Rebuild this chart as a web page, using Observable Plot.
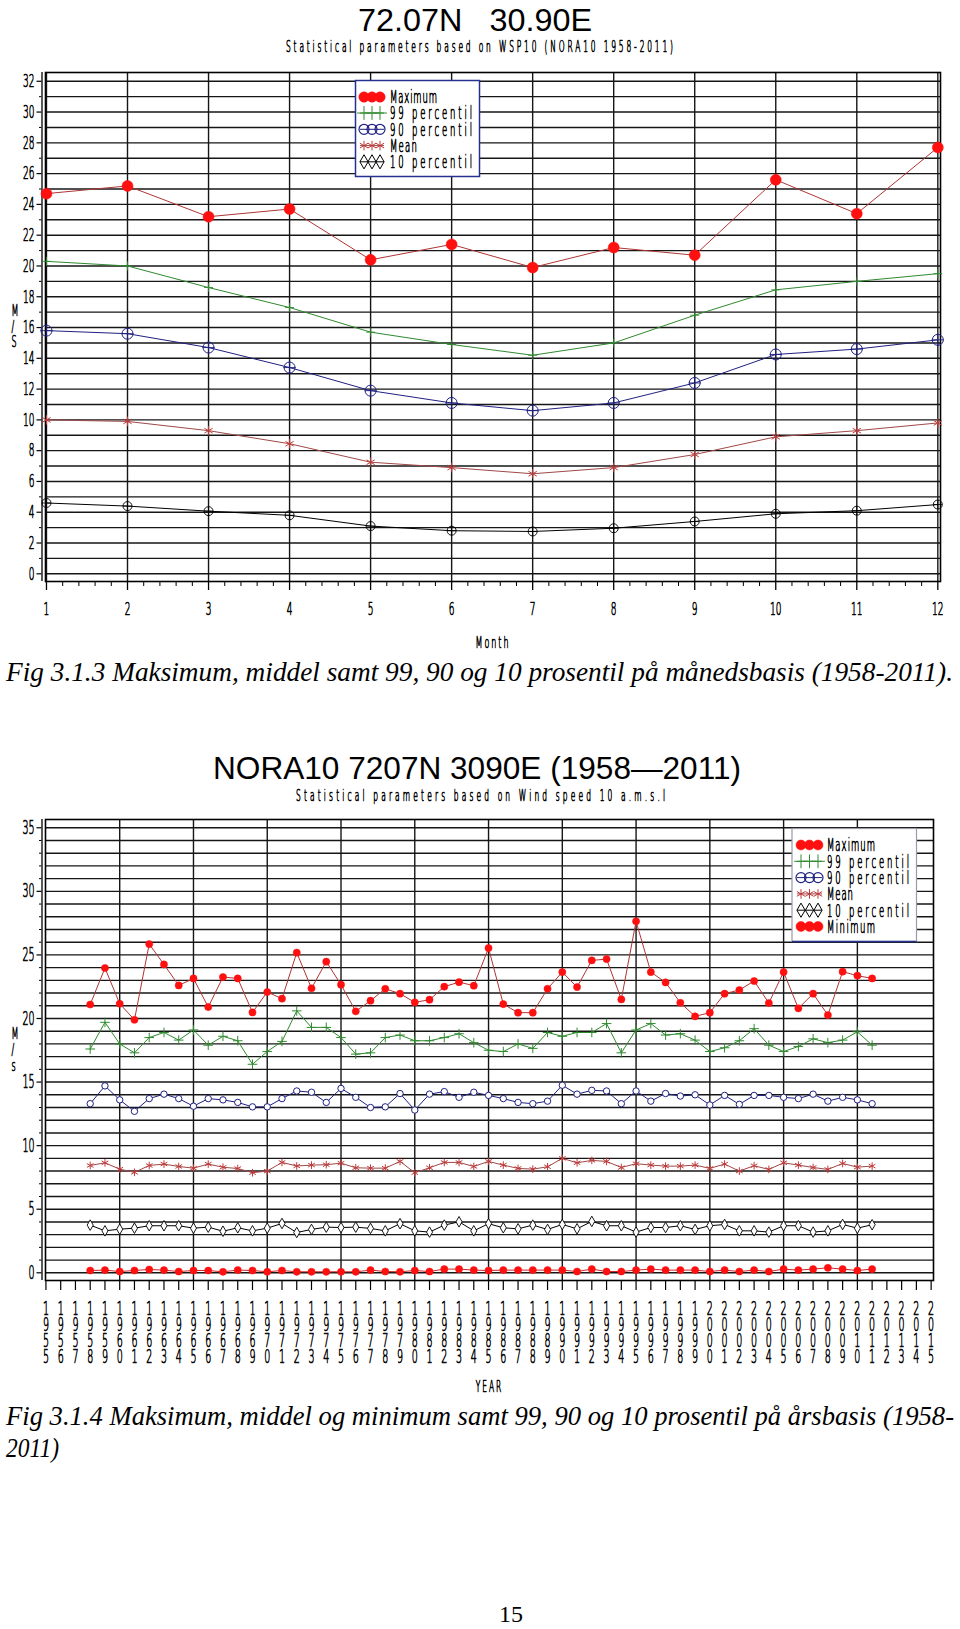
<!DOCTYPE html>
<html><head><meta charset="utf-8">
<script src="https://cdn.jsdelivr.net/npm/d3@7"></script>
<script src="https://cdn.jsdelivr.net/npm/@observablehq/plot@0.6"></script>
<style>
html,body{margin:0;padding:0;background:#fff;}
#page{position:relative;width:960px;height:1629px;overflow:hidden;background:#fff;}
</style></head>
<body><div id="page"></div>
<script>
// ---------- DATA: monthly chart ----------
const months = [1,2,3,4,5,6,7,8,9,10,11,12];
const monthMax  = [24.7, 25.2, 23.2, 23.7, 20.4, 21.4, 19.9, 21.2, 20.7, 25.6, 23.4, 27.7];
const monthP99  = [20.3, 20.0, 18.6, 17.3, 15.7, 14.9, 14.2, 15.0, 16.8, 18.45, 19.0, 19.5];
const monthP90  = [15.8, 15.6, 14.7, 13.4, 11.9, 11.1, 10.6, 11.1, 12.4, 14.25, 14.6, 15.2];
const monthMean = [10.0, 9.9, 9.3, 8.45, 7.25, 6.9, 6.5, 6.9, 7.75, 8.9, 9.3, 9.8];
const monthP10  = [4.6, 4.4, 4.07, 3.8, 3.1, 2.8, 2.75, 2.96, 3.4, 3.9, 4.1, 4.5];
const monthYLabels = [0,2,4,6,8,10,12,14,16,18,20,22,24,26,28,30,32];

// ---------- DATA: yearly chart ----------
const years = [1958,1959,1960,1961,1962,1963,1964,1965,1966,1967,1968,1969,1970,1971,1972,1973,1974,1975,1976,1977,
  1978,1979,1980,1981,1982,1983,1984,1985,1986,1987,1988,1989,1990,1991,1992,1993,1994,1995,1996,1997,
  1998,1999,2000,2001,2002,2003,2004,2005,2006,2007,2008,2009,2010,2011];
const yearMax = [21.1, 23.97, 21.16, 19.9, 25.85, 24.25, 22.6, 23.15, 20.9, 23.26,
  23.15, 20.48, 22.08, 21.56, 25.18, 22.37, 24.47, 22.66, 20.56, 21.4,
  22.34, 21.95, 21.27, 21.48, 22.5, 22.86, 22.58, 25.54, 21.13, 20.46,
  20.46, 22.34, 23.65, 22.47, 24.57, 24.67, 21.5, 27.64, 23.65, 22.84,
  21.24, 20.17, 20.46, 21.95, 22.24, 22.95, 21.21, 23.65, 20.8, 21.95,
  20.27, 23.68, 23.37, 23.15];
const yearP99 = [17.6, 19.7, 18.0, 17.3, 18.5, 18.9, 18.3, 19.1, 17.9, 18.6,
  18.25, 16.4, 17.4, 18.2, 20.6, 19.3, 19.3, 18.5, 17.2, 17.3,
  18.5, 18.7, 18.25, 18.25, 18.5, 18.8, 18.1, 17.5, 17.4, 18.0,
  17.65, 18.9, 18.6, 18.9, 18.9, 19.6, 17.3, 19.1, 19.6, 18.7,
  18.8, 18.3, 17.4, 17.7, 18.25, 19.2, 17.9, 17.4, 17.8, 18.4,
  18.1, 18.3, 18.95, 17.9];
const yearP90 = [13.3, 14.7, 13.6, 12.7, 13.7, 14.05, 13.7, 13.1, 13.7, 13.6,
  13.4, 13.05, 13.05, 13.7, 14.3, 14.2, 13.4, 14.5, 13.8, 13.0,
  13.05, 14.1, 12.8, 14.05, 14.25, 13.8, 14.2, 13.95, 13.7, 13.4,
  13.3, 13.5, 14.75, 14.05, 14.35, 14.3, 13.3, 14.3, 13.5, 14.1,
  13.9, 14.0, 13.2, 13.95, 13.25, 13.95, 13.95, 13.8, 13.7, 14.05,
  13.5, 13.8, 13.6, 13.3];
const yearMean = [8.44, 8.65, 8.15, 7.9, 8.44, 8.55, 8.36, 8.23, 8.55, 8.3,
  8.2, 7.87, 8.0, 8.68, 8.4, 8.47, 8.5, 8.62, 8.26, 8.23,
  8.23, 8.76, 7.87, 8.26, 8.68, 8.68, 8.36, 8.76, 8.47, 8.21,
  8.15, 8.34, 9.0, 8.65, 8.84, 8.76, 8.28, 8.58, 8.47, 8.39,
  8.39, 8.47, 8.21, 8.55, 8.0, 8.42, 8.13, 8.65, 8.47, 8.28,
  8.13, 8.6, 8.31, 8.39];
const yearP10 = [3.75, 3.3, 3.43, 3.51, 3.7, 3.7, 3.7, 3.51, 3.59, 3.27,
  3.54, 3.3, 3.51, 3.88, 3.17, 3.41, 3.59, 3.56, 3.59, 3.49,
  3.3, 3.86, 3.3, 3.2, 3.75, 4.01, 3.3, 3.86, 3.54, 3.46,
  3.75, 3.41, 3.8, 3.46, 4.04, 3.7, 3.7, 3.2, 3.56, 3.56,
  3.7, 3.41, 3.7, 3.8, 3.3, 3.3, 3.2, 3.7, 3.7, 3.2,
  3.3, 3.8, 3.51, 3.78];
const yearMin = [0.18, 0.21, 0.1, 0.18, 0.26, 0.21, 0.1, 0.18, 0.18, 0.08,
  0.21, 0.18, 0.08, 0.18, 0.08, 0.08, 0.08, 0.08, 0.08, 0.21,
  0.1, 0.08, 0.18, 0.1, 0.29, 0.29, 0.21, 0.18, 0.21, 0.21,
  0.21, 0.21, 0.21, 0.1, 0.29, 0.1, 0.1, 0.21, 0.29, 0.21,
  0.21, 0.21, 0.1, 0.21, 0.1, 0.21, 0.1, 0.29, 0.21, 0.29,
  0.39, 0.29, 0.18, 0.29];
const yearTickLabels = [1955,1956,1957,1958,1959,1960,1961,1962,1963,1964,1965,1966,1967,1968,1969,1970,
  1971,1972,1973,1974,1975,1976,1977,1978,1979,1980,1981,1982,1983,1984,1985,1986,1987,1988,1989,1990,
  1991,1992,1993,1994,1995,1996,1997,1998,1999,2000,2001,2002,2003,2004,2005,2006,2007,2008,2009,2010,
  2011,2012,2013,2014,2015];
const yearYLabels = [0,5,10,15,20,25,30,35];
const yearGridX = [1960,1965,1970,1975,1980,1985,1990,1995,2000,2005,2010];

const legendMonth = ["Maximum","99 percentil","90 percentil","Mean","10 percentil"];
const legendYear  = ["Maximum","99 percentil","90 percentil","Mean","10 percentil","Minimum"];

// ---------- STYLE ----------
const gridColor = "#161616";
const C = {
  maxDot: "#ff1010", maxLine: "#b03434",
  p99: "#2f8a2f", p90: "#1f2080",
  meanLine: "#a04848", meanMark: "#c03a3a",
  p10: "#000000", minDot: "#ff1010", minLine: "#c82828"
};
const FONT = "'DejaVu Sans ExtraLight', 'DejaVu Sans', sans-serif";
const page = document.getElementById("page");

const isNum = v => v != null && /^-?[\d.]+$/.test(v.trim());
function condense(svg, sx) {
  svg.querySelectorAll("text").forEach(t => {
    let tr = t.getAttribute("transform") || "";
    const x = t.getAttribute("x"), y = t.getAttribute("y");
    const nx = isNum(x) ? +x : 0, ny = isNum(y) ? +y : 0;
    if (isNum(x)) t.removeAttribute("x");
    if (isNum(y)) t.removeAttribute("y");
    if (nx || ny) {
      tr += ` translate(${nx},${ny})`;
      t.querySelectorAll("tspan").forEach(s => { if (s.getAttribute("x") === x) s.setAttribute("x", 0); });
    }
    t.setAttribute("transform", tr + ` scale(${sx},1)`);
    t.setAttribute("font-weight", 300);
    t.setAttribute("stroke", "#000");
    t.setAttribute("stroke-width", 0.75);
    if (/[A-Za-z]{2,}/.test(t.textContent)) t.setAttribute("letter-spacing", 4);
  });
}
const at = arr => (d, i) => arr[i];

// ---------- CHART 1 (monthly) ----------
{
  const xd = [0.988, 12.033], yd = [-0.5, 32.57];
  const gridH = d3.range(0, 33);
  const minorY = gridH.filter(v => v % 2 === 1);
  const minorX = d3.range(1, 12.001, 0.2).filter(v => Math.abs(v - Math.round(v)) > 0.01);
  const txt = {fontFamily: FONT, fill: "#000"};
  const svg = Plot.plot({
    width: 960, height: 600,
    marginTop: 12, marginBottom: 79, marginLeft: 45, marginRight: 20,
    x: {domain: xd, axis: null},
    y: {domain: yd, axis: null},
    style: {background: "transparent", overflow: "visible"},
    marks: [
      Plot.ruleY(gridH, {y: d => d, stroke: gridColor, strokeWidth: 1.4}),
      Plot.ruleX(months, {x: d => d, stroke: gridColor, strokeWidth: 1.4}),
      Plot.frame({stroke: "#000", strokeWidth: 1.6}),
      Plot.ruleX([xd[0]], {x: d => d, dx: -3.5, stroke: "#000", strokeWidth: 1.3}),
      Plot.ruleY(monthYLabels, {y: d => d, x1: xd[0], x2: xd[0], dx: -3.5, insetRight: 5, stroke: "#000", strokeWidth: 1.2}),
      Plot.ruleY(minorY, {y: d => d, x1: xd[0], x2: xd[0], dx: -3.5, insetRight: 2.5, stroke: "#000", strokeWidth: 1}),
      Plot.ruleX(months, {x: d => d, y1: yd[0], y2: yd[0], insetBottom: -9, stroke: "#000", strokeWidth: 1.3}),
      Plot.ruleX(minorX, {x: d => d, y1: yd[0], y2: yd[0], insetBottom: -5, stroke: "#000", strokeWidth: 1}),
      // series
      Plot.line(monthP10, {x: at(months), y: d => d, stroke: C.p10, strokeWidth: 1}),
      Plot.dot(monthP10, {x: at(months), y: d => d, r: 4.5, stroke: C.p10, fill: "none", strokeWidth: 0.9}),
      Plot.dot(monthP10, {x: at(months), y: d => d, r: 3, symbol: "plus", stroke: C.p10, strokeWidth: 0.8}),
      Plot.line(monthMean, {x: at(months), y: d => d, stroke: C.meanLine, strokeWidth: 1}),
      Plot.dot(monthMean, {x: at(months), y: d => d, r: 4.5, symbol: "asterisk", stroke: C.meanMark, strokeWidth: 1}),
      Plot.line(monthP90, {x: at(months), y: d => d, stroke: C.p90, strokeWidth: 1}),
      Plot.dot(monthP90, {x: at(months), y: d => d, r: 5.5, stroke: C.p90, fill: "none", strokeWidth: 1}),
      Plot.dot(monthP90, {x: at(months), y: d => d, r: 4, symbol: "plus", stroke: C.p90, strokeWidth: 0.9}),
      Plot.line(monthP99, {x: at(months), y: d => d, stroke: C.p99, strokeWidth: 1}),
      Plot.dot(monthP99, {x: at(months), y: d => d, r: 3, symbol: "plus", stroke: C.p99, strokeWidth: 0.9}),
      Plot.line(monthMax, {x: at(months), y: d => d, stroke: C.maxLine, strokeWidth: 1}),
      Plot.dot(monthMax, {x: at(months), y: d => d, r: 5.5, fill: C.maxDot, stroke: C.maxDot, strokeWidth: 0.5}),
      // axis texts
      Plot.text(monthYLabels, {y: d => d, text: d => String(d), frameAnchor: "left", dx: -11, textAnchor: "end", lineAnchor: "middle", fontSize: 18, ...txt}),
      Plot.text(months, {x: d => d, text: d => String(d), frameAnchor: "bottom", dy: 28, lineAnchor: "middle", fontSize: 18, ...txt}),
      Plot.text(["Month"], {text: d => d, frameAnchor: "bottom", dy: 61, lineAnchor: "middle", fontSize: 16, ...txt}),
      Plot.text(["M\n/\nS"], {text: d => d, frameAnchor: "left", dx: -34, lineAnchor: "middle", lineHeight: 0.97, fontSize: 16, ...txt})
    ]
  });
  svg.style.position = "absolute"; svg.style.left = "0px"; svg.style.top = "60px";
  condense(svg, 0.5);
  page.appendChild(svg);
}

// ---------- CHART 2 (yearly) ----------
{
  const xd = [1954.97, 2015.16], yd = [-0.606, 35.65];
  const gridH = d3.range(0, 36);
  const minorY = gridH.filter(v => v % 5 !== 0);
  const txt = {fontFamily: FONT, fill: "#000"};
  const svg = Plot.plot({
    width: 960, height: 620,
    marginTop: 19, marginBottom: 140, marginLeft: 45, marginRight: 27,
    x: {domain: xd, axis: null},
    y: {domain: yd, axis: null},
    style: {background: "transparent", overflow: "visible"},
    marks: [
      Plot.ruleY(gridH, {y: d => d, stroke: gridColor, strokeWidth: 1.4}),
      Plot.ruleX(yearGridX, {x: d => d, stroke: gridColor, strokeWidth: 1.4}),
      Plot.frame({stroke: "#000", strokeWidth: 1.6}),
      Plot.ruleX([xd[0]], {x: d => d, dx: -3.5, stroke: "#000", strokeWidth: 1.3}),
      Plot.ruleY(yearYLabels, {y: d => d, x1: xd[0], x2: xd[0], dx: -3.5, insetRight: 5, stroke: "#000", strokeWidth: 1.2}),
      Plot.ruleY(minorY, {y: d => d, x1: xd[0], x2: xd[0], dx: -3.5, insetRight: 2.5, stroke: "#000", strokeWidth: 1}),
      Plot.ruleX(yearTickLabels, {x: d => d, y1: yd[0], y2: yd[0], insetBottom: -10, stroke: "#000", strokeWidth: 1.2}),
      // series
      Plot.line(yearMin, {x: at(years), y: d => d, stroke: C.minLine, strokeWidth: 1}),
      Plot.dot(yearMin, {x: at(years), y: d => d, r: 3.6, fill: C.minDot, stroke: C.minDot, strokeWidth: 0.5}),
      Plot.line(yearP10, {x: at(years), y: d => d, stroke: C.p10, strokeWidth: 1}),
      Plot.dot(yearP10, {x: at(years), y: d => d, r: 3.2, symbol: "diamond", stroke: C.p10, fill: "#fff", strokeWidth: 0.9}),
      Plot.line(yearMean, {x: at(years), y: d => d, stroke: C.meanLine, strokeWidth: 1}),
      Plot.dot(yearMean, {x: at(years), y: d => d, r: 3.6, symbol: "asterisk", stroke: C.meanMark, strokeWidth: 1}),
      Plot.line(yearP90, {x: at(years), y: d => d, stroke: C.p90, strokeWidth: 1}),
      Plot.dot(yearP90, {x: at(years), y: d => d, r: 3.2, stroke: C.p90, fill: "#fff", strokeWidth: 1}),
      Plot.line(yearP99, {x: at(years), y: d => d, stroke: C.p99, strokeWidth: 1}),
      Plot.dot(yearP99, {x: at(years), y: d => d, r: 3.2, symbol: "plus", stroke: C.p99, strokeWidth: 1}),
      Plot.line(yearMax, {x: at(years), y: d => d, stroke: C.maxLine, strokeWidth: 1}),
      Plot.dot(yearMax, {x: at(years), y: d => d, r: 3.6, fill: C.maxDot, stroke: C.maxDot, strokeWidth: 0.5}),
      // axis texts
      Plot.text(yearYLabels, {y: d => d, text: d => String(d), frameAnchor: "left", dx: -11, textAnchor: "end", lineAnchor: "middle", fontSize: 19, ...txt}),
      Plot.text(yearTickLabels, {x: d => d, text: d => String(d).split("").join("\n"), frameAnchor: "bottom", dy: 53, lineAnchor: "middle", lineHeight: 16 / 19, fontSize: 19, ...txt}),
      Plot.text(["YEAR"], {text: d => d, frameAnchor: "bottom", dy: 107, lineAnchor: "middle", fontSize: 15, ...txt}),
      Plot.text(["M\n/\ns"], {text: d => d, frameAnchor: "left", dx: -34, lineAnchor: "middle", lineHeight: 1.0, fontSize: 16, ...txt})
    ]
  });
  svg.style.position = "absolute"; svg.style.left = "0px"; svg.style.top = "800px";
  condense(svg, 0.5);
  page.appendChild(svg);
}

// ---------- OVERLAY: titles, legends, captions ----------
{
  const ov = d3.create("svg").attr("width", 960).attr("height", 1629)
    .style("position", "absolute").style("left", "0px").style("top", "0px");

  function ctext(x, y, str, width, size, anchor = "start") {
    ov.append("text").attr("transform", `translate(${x},${y}) scale(0.5,1)`)
      .attr("font-family", FONT).attr("font-weight", 300).attr("font-size", size).attr("text-anchor", anchor)
      .attr("stroke", "#000").attr("stroke-width", 0.75)
      .attr("textLength", width / 0.5).attr("lengthAdjust", "spacing").attr("fill", "#000").text(str);
  }
  function ftext(x, y, str, width, size, family, style, anchor = "start") {
    ov.append("text").attr("x", x).attr("y", y).attr("font-family", family).attr("font-size", size)
      .attr("font-style", style).attr("text-anchor", anchor).style("white-space", "pre")
      .attr("textLength", width).attr("lengthAdjust", "spacingAndGlyphs").attr("fill", "#000").text(str);
  }
  function sym(type, x, y, r, fill, stroke, sw) {
    ov.append("path").attr("transform", `translate(${x},${y})`)
      .attr("d", d3.symbol(type, Math.PI * r * r)()).attr("fill", fill).attr("stroke", stroke).attr("stroke-width", sw);
  }
  function seg(x1, x2, y, stroke) {
    ov.append("line").attr("x1", x1).attr("x2", x2).attr("y1", y).attr("y2", y).attr("stroke", stroke).attr("stroke-width", 1);
  }
  function legendSym(kind, xs, y, big) {
    const x1 = xs[0] - 4, x2 = xs[2] + 4;
    xs.forEach(x => {
      if (kind === "max" || kind === "min") { sym(d3.symbolCircle, x, y, big ? 5.2 : 5, C.maxDot, C.maxDot, 0.5); }
    });
    if (kind === "p99") { seg(x1, x2, y, C.p99); xs.forEach(x => sym(d3.symbolPlus, x, y, 4.5, "none", C.p99, 1)); }
    if (kind === "p90") { seg(x1, x2, y, C.p90); xs.forEach(x => sym(d3.symbolCircle, x, y, 5, "none", C.p90, 1.2)); }
    if (kind === "mean") { seg(x1, x2, y, C.meanLine); xs.forEach(x => sym(d3.symbolAsterisk, x, y, 4.5, "none", C.meanMark, 1)); }
    if (kind === "p10") { seg(x1, x2, y, C.p10); xs.forEach(x => sym(d3.symbolDiamond, x, y, 4.3, "none", C.p10, 1)); }
  }

  // Titles
  ftext(475, 31, "72.07N   30.90E", 234, 32, "Liberation Sans, Arial, sans-serif", "normal", "middle");
  ctext(479.5, 52, "Statistical parameters based on WSP10 (NORA10 1958-2011)", 387, 15, "middle");
  ftext(477, 779, "NORA10 7207N 3090E (1958\u20142011)", 528, 32, "Liberation Sans, Arial, sans-serif", "normal", "middle");
  ctext(480.5, 801, "Statistical parameters based on Wind speed 10 a.m.s.l", 369, 15, "middle");

  // Legend 1
  ov.append("rect").attr("x", 355.5).attr("y", 80.5).attr("width", 124).attr("height", 96)
    .attr("fill", "#fff").attr("stroke", "#25308f").attr("stroke-width", 1.5);
  const kinds1 = ["max", "p99", "p90", "mean", "p10"];
  const rows1 = [97, 113, 129.3, 145.6, 161.8];
  const widths1 = [47, 82, 82, 27, 82];
  legendMonth.forEach((lab, i) => {
    legendSym(kinds1[i], [364, 372, 380], rows1[i], true);
    ctext(390, rows1[i] + 6.3, lab, widths1[i], 17);
  });

  // Legend 2
  ov.append("rect").attr("x", 792).attr("y", 828.5).attr("width", 124.5).attr("height", 113)
    .attr("fill", "#fff").attr("stroke", "#9a9aa8").attr("stroke-width", 1.2);
  ov.append("line").attr("x1", 792).attr("x2", 916.5).attr("y1", 941.5).attr("y2", 941.5).attr("stroke", "#25308f").attr("stroke-width", 1.5);
  const kinds2 = ["max", "p99", "p90", "mean", "p10", "min"];
  const rows2 = [845, 861.3, 877.6, 893.9, 910.2, 926.5];
  const widths2 = [48, 82, 82, 26, 82, 48];
  legendYear.forEach((lab, i) => {
    legendSym(kinds2[i], [801, 809.5, 818], rows2[i], false);
    ctext(827, rows2[i] + 6.3, lab, widths2[i], 17);
  });

  // Captions
  const serif = "Liberation Serif, Times New Roman, serif";
  ftext(6, 681, "Fig 3.1.3 Maksimum, middel samt 99, 90 og 10 prosentil på månedsbasis (1958-2011).", 947, 27, serif, "italic");
  ftext(6, 1425, "Fig 3.1.4 Maksimum, middel og minimum samt 99, 90 og 10 prosentil på årsbasis (1958-", 948, 27, serif, "italic");
  ftext(6, 1457, "2011)", 53, 27, serif, "italic");
  ftext(511, 1622, "15", 24, 24, serif, "normal", "middle");

  page.appendChild(ov.node());
}
</script>
</body></html>
